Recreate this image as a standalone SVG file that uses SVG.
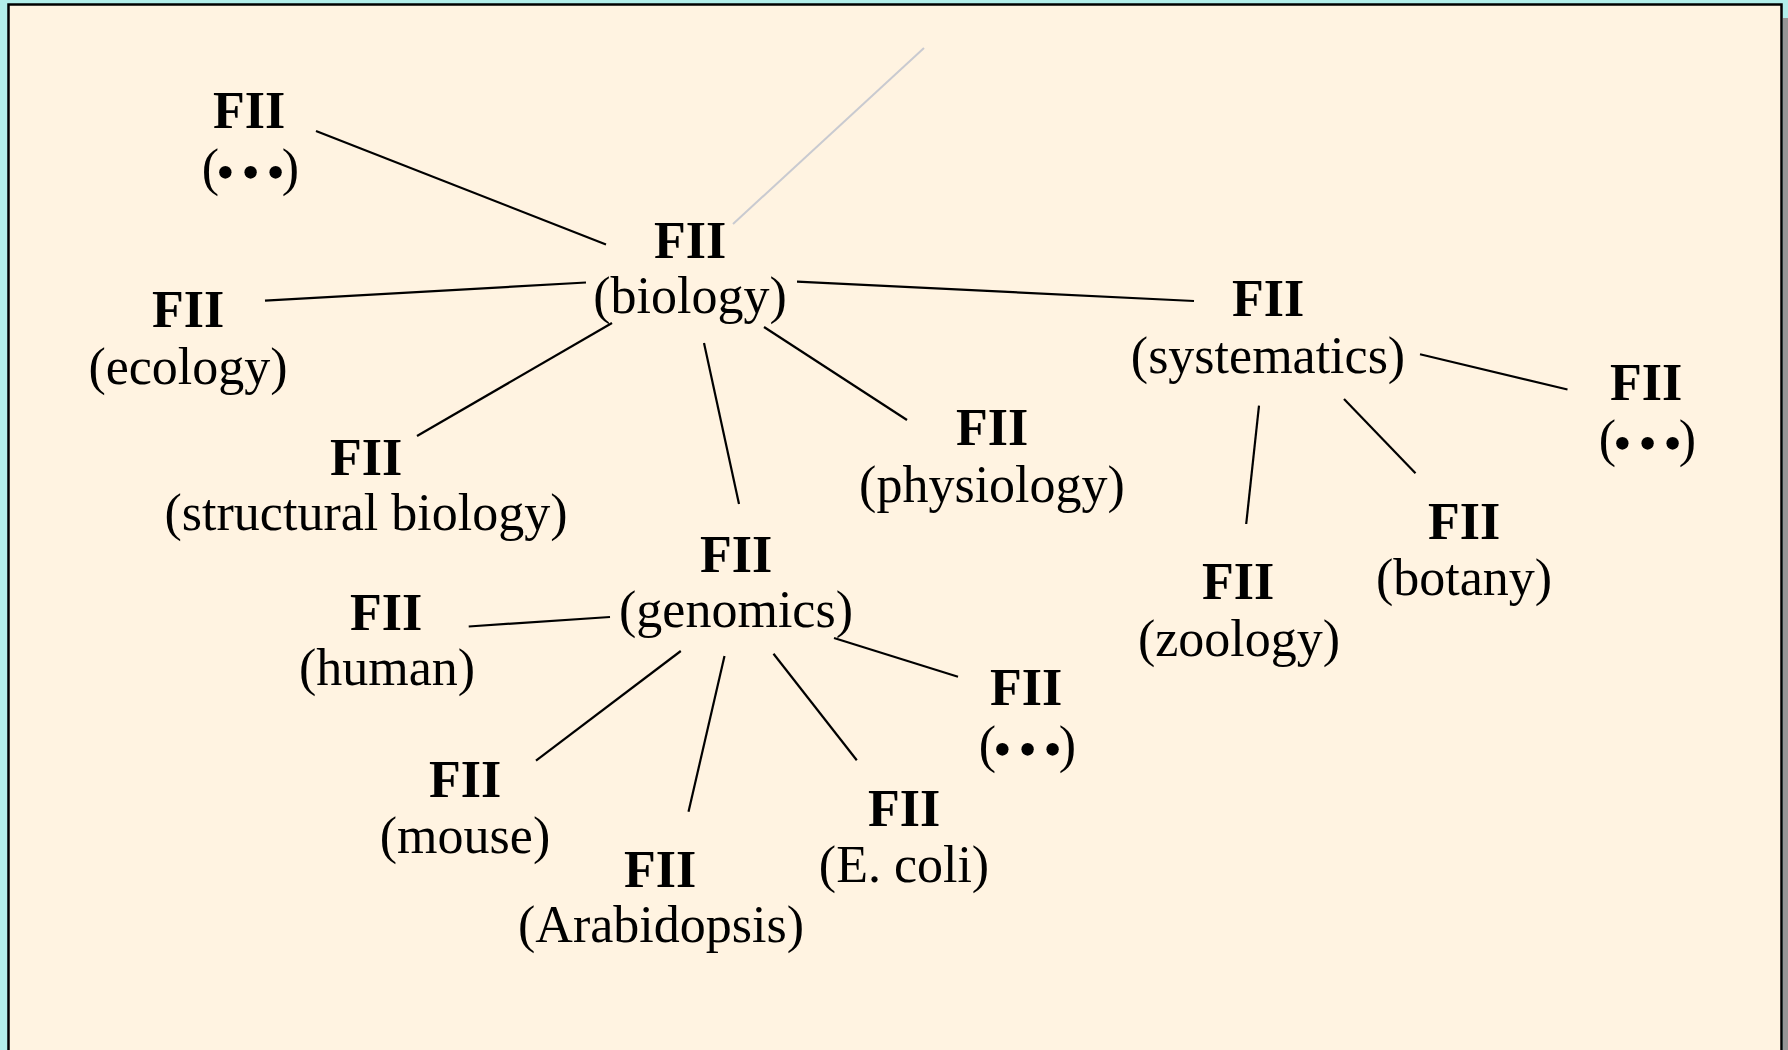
<svg xmlns="http://www.w3.org/2000/svg" width="1788" height="1050" viewBox="0 0 1788 1050">
<style>
.t{font-family:"Liberation Serif","Times New Roman",serif;font-size:52px;fill:#000;text-anchor:middle}
.b{font-weight:bold}
.d{letter-spacing:-3px}
.c line{stroke:#000;stroke-width:2.2;stroke-linecap:butt}
</style>
<rect x="0" y="0" width="1788" height="1050" fill="#b2eeea"/>
<rect x="1783" y="18" width="5" height="1100" fill="#969696"/>
<rect x="8.5" y="4.5" width="1773" height="1100" fill="#fff3e1" stroke="#000" stroke-width="2.5"/>
<g id="connectors" class="c">
<line x1="733" y1="224" x2="924" y2="48" style="stroke:#c9cad0;stroke-width:2"/>
<line x1="316" y1="131" x2="606" y2="244.5"/>
<line x1="265" y1="300.7" x2="586" y2="282.5"/>
<line x1="417" y1="436" x2="612" y2="323"/>
<line x1="704" y1="343" x2="739" y2="504"/>
<line x1="764" y1="327" x2="907" y2="420"/>
<line x1="797" y1="281.7" x2="1194" y2="301"/>
<line x1="1420" y1="354.3" x2="1567.5" y2="389.5"/>
<line x1="1259" y1="405.7" x2="1246.2" y2="524"/>
<line x1="1344" y1="399" x2="1415.5" y2="473.3"/>
<line x1="468.7" y1="626.5" x2="610" y2="617"/>
<line x1="680.8" y1="651" x2="536" y2="760.6"/>
<line x1="724.5" y1="656" x2="688.5" y2="811.8"/>
<line x1="773.5" y1="653.7" x2="856.8" y2="760.3"/>
<line x1="834" y1="638" x2="958" y2="676.7"/>
</g>
<g id="node-dots-top"><text class="t b" x="249" y="128">FII</text><text class="t d" x="249" y="185">(<tspan dy="5">• • •</tspan><tspan dy="-5">)</tspan></text></g>
<g id="node-biology"><text class="t b" x="690" y="258">FII</text><text class="t" x="690" y="313">(biology)</text></g>
<g id="node-ecology"><text class="t b" x="188" y="327">FII</text><text class="t" x="188" y="384">(ecology)</text></g>
<g id="node-structural"><text class="t b" x="366" y="475">FII</text><text class="t" x="366" y="530">(structural biology)</text></g>
<g id="node-physiology"><text class="t b" x="992" y="445">FII</text><text class="t" x="992" y="502">(physiology)</text></g>
<g id="node-systematics"><text class="t b" x="1268" y="316">FII</text><text class="t" x="1268" y="373">(systematics)</text></g>
<g id="node-dots-right"><text class="t b" x="1646" y="400">FII</text><text class="t d" x="1646" y="456">(<tspan dy="5">• • •</tspan><tspan dy="-5">)</tspan></text></g>
<g id="node-zoology"><text class="t b" x="1238" y="599">FII</text><text class="t" x="1239" y="656">(zoology)</text></g>
<g id="node-botany"><text class="t b" x="1464" y="539">FII</text><text class="t" x="1464" y="595">(botany)</text></g>
<g id="node-genomics"><text class="t b" x="736" y="572">FII</text><text class="t" x="736" y="627">(genomics)</text></g>
<g id="node-human"><text class="t b" x="386" y="630">FII</text><text class="t" x="387" y="685">(human)</text></g>
<g id="node-mouse"><text class="t b" x="465" y="797">FII</text><text class="t" x="465" y="853">(mouse)</text></g>
<g id="node-arabidopsis"><text class="t b" x="660" y="887">FII</text><text class="t" x="661" y="942">(Arabidopsis)</text></g>
<g id="node-ecoli"><text class="t b" x="904" y="826">FII</text><text class="t" x="904" y="882">(E. coli)</text></g>
<g id="node-dots-genomics"><text class="t b" x="1026" y="705">FII</text><text class="t d" x="1026" y="762">(<tspan dy="5">• • •</tspan><tspan dy="-5">)</tspan></text></g>
</svg>
